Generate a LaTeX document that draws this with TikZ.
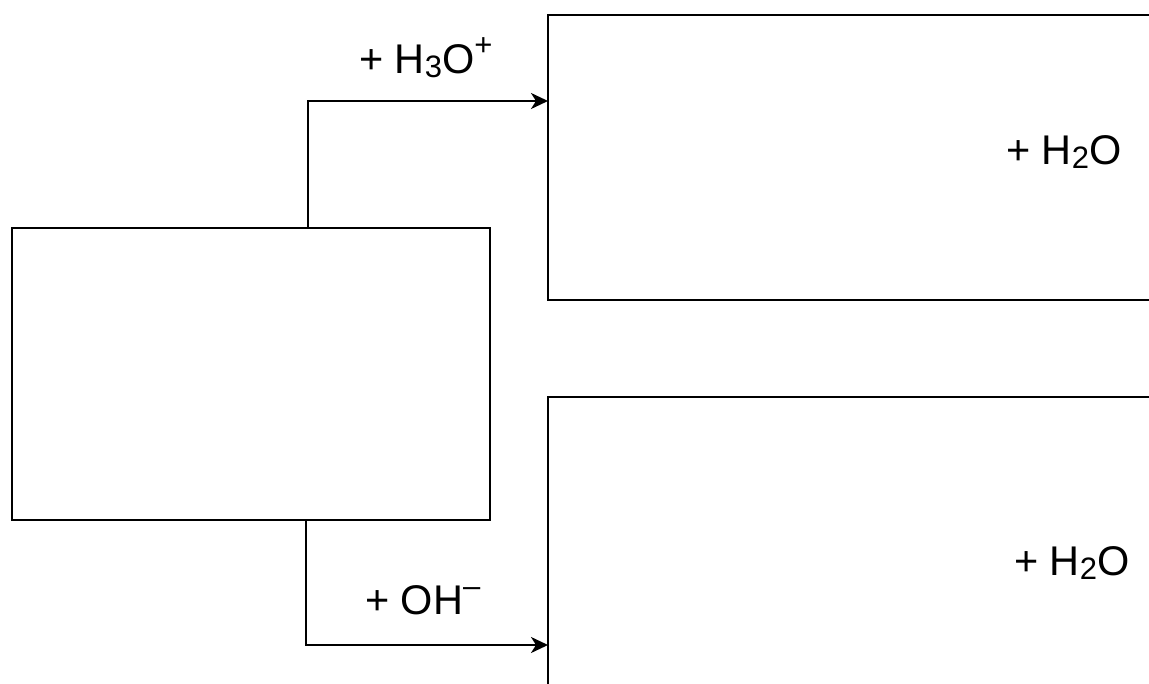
\documentclass[tikz,border=0pt]{standalone}
\usepackage{fontspec}
\setmainfont{Liberation Sans}
\usetikzlibrary{arrows.meta,calc}
\newcommand{\lsub}[1]{\raisebox{-4pt}{\fontsize{31}{31}\selectfont #1}}
\newcommand{\lsup}[1]{\raisebox{18pt}{\fontsize{31}{31}\selectfont #1}}
\begin{document}
\begin{tikzpicture}[x=1pt,y=-1pt,
  box/.style={draw,line width=2.3pt,rectangle,inner sep=0pt,outer sep=0pt,anchor=north west},
  conn/.style={line width=2.3pt,-{Stealth[length=17pt,width=16pt,inset=5pt]}},
  lbl/.style={anchor=base west,inner sep=0pt,font=\fontsize{41.5}{48}\selectfont}]
\useasboundingbox (0,0) rectangle (1149,684);
\clip (0,0) rectangle (1149,684);
\fill[white] (0,0) rectangle (1149,684);
\node[box,minimum width=478pt,minimum height=292pt] (l) at (12,228) {};
\node[box,minimum width=700pt,minimum height=285pt] (tr) at (548,15) {};
\node[box,minimum width=700pt,minimum height=400pt] (br) at (548,397) {};
\node[lbl] (acid) at (359,74) {+ H\lsub{3}O\lsup{+}};
\node[lbl] (base) at (365,614) {+ OH\lsup{–}};
\node[lbl] (w1) at (1006,165) {+ H\lsub{2}O};
\node[lbl] (w2) at (1014,575) {+ H\lsub{2}O};
\draw[conn] ($(l.north west)+(296,0)$) |- ($(tr.north west)+(0,86)$);
\draw[conn] ($(l.south west)+(294,0)$) |- ($(br.north west)+(0,248)$);
\end{tikzpicture}
\end{document}
